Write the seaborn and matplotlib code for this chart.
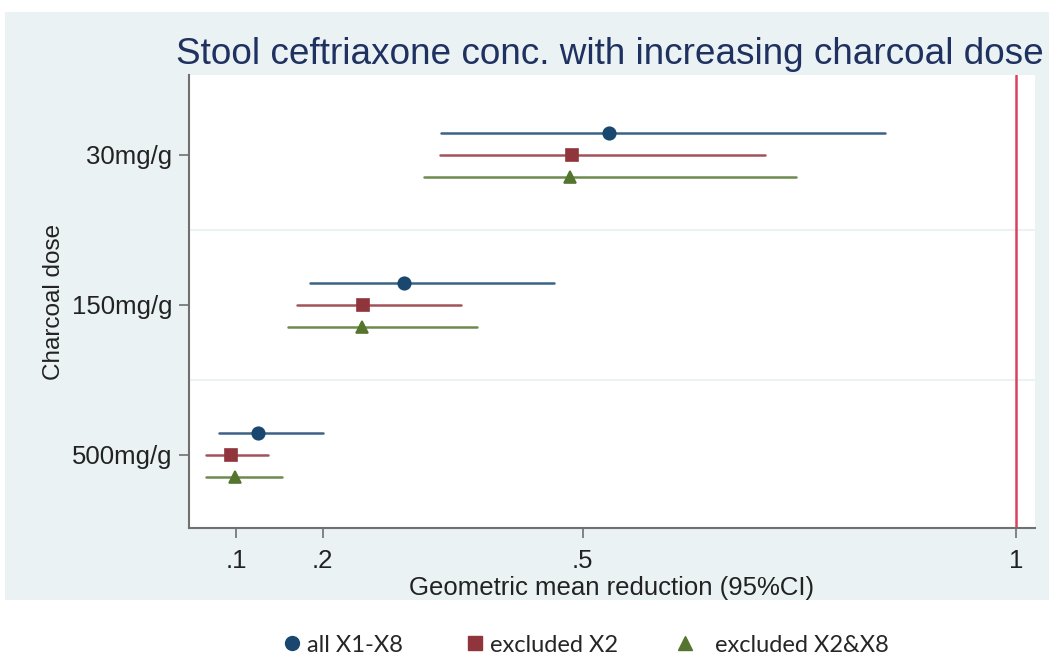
import matplotlib
matplotlib.use("Agg")
import matplotlib.pyplot as plt
from matplotlib.lines import Line2D
from matplotlib.patches import Rectangle
import seaborn as sns
import pandas as pd

# dados
doses = ["30mg/g", "150mg/g", "500mg/g"]
grupos = ["all X1-X8", "excluded X2", "excluded X2&X8"]

media_all = [0.53, 0.294, 0.125]
lo_all = [0.336, 0.185, 0.080]
hi_all = [0.849, 0.467, 0.200]

media_x2 = [0.488, 0.246, 0.094]
lo_x2 = [0.335, 0.170, 0.065]
hi_x2 = [0.710, 0.360, 0.137]

media_x2x8 = [0.485, 0.245, 0.099]
lo_x2x8 = [0.317, 0.160, 0.065]
hi_x2x8 = [0.746, 0.378, 0.153]

x_ticks = [0.1, 0.2, 0.5, 1]
x_ticklabels = [".1", ".2", ".5", "1"]

cores = {"all X1-X8": "#1a476f", "excluded X2": "#90353b", "excluded X2&X8": "#55752f"}
marcadores = ["o", "s", "^"]

# tabela longa: cada grupo tem lo, media, hi -> mediana = media, pi 100 = IC
linhas = []
for grupo, med, lo, hi in [
    (grupos[0], media_all, lo_all, hi_all),
    (grupos[1], media_x2, lo_x2, hi_x2),
    (grupos[2], media_x2x8, lo_x2x8, hi_x2x8),
]:
    for i, dose in enumerate(doses):
        for v in (lo[i], med[i], hi[i]):
            linhas.append({"dose": dose, "grupo": grupo, "valor": v})
df = pd.DataFrame(linhas)

sns.set_theme(style="white")
plt.rcParams["font.family"] = ["Liberation Sans", "DejaVu Sans"]

fig = plt.figure(figsize=(10.49, 6.59), dpi=100, facecolor="white")
W, H = 1049, 659
fig.patches.append(Rectangle((5 / W, 1 - 600 / H), 1 - 5 / W, (600 - 12) / H,
                             transform=fig.transFigure, facecolor="#eaf2f3",
                             edgecolor="none", zorder=-10))

ax = fig.add_axes([189 / W, 1 - 528 / H, (1035 - 189) / W, (528 - 75) / H])
ax.set_facecolor("white")

sns.pointplot(
    data=df, x="valor", y="dose", hue="grupo", order=doses, hue_order=grupos,
    estimator="median", errorbar=("pi", 100), dodge=0.294,
    markers=marcadores, linestyles="none", palette=cores,
    markersize=9, linewidth=1.6, err_kws={"linewidth": 1.8, "alpha": 0.85},
    orient="h", ax=ax, legend=False,
)

ax.axvline(1, color="#d9415f", linewidth=1.8, zorder=1)
for yb in (0.5, 1.5):
    ax.axhline(yb, color="#eaf2f3", linewidth=1.5, zorder=0)

ax.set_xlim(0.0458, 1.0216)
ax.set_ylim(2.487, -0.533)
ax.set_xticks(x_ticks)
ax.set_xticklabels(x_ticklabels)

for s in ("top", "right"):
    ax.spines[s].set_visible(False)
for s in ("left", "bottom"):
    ax.spines[s].set_color("#707070")
    ax.spines[s].set_linewidth(1.5)
ax.tick_params(axis="both", direction="out", length=7, width=1.2, color="#707070",
               labelsize=18.5, labelcolor="#222222", left=True, bottom=True)
ax.tick_params(axis="x", pad=8)
ax.tick_params(axis="y", pad=5)

ax.set_xlabel("Geometric mean reduction (95%CI)", fontsize=18.5, color="#222222", labelpad=2)
ax.set_ylabel("Charcoal dose", fontsize=17.5, color="#222222", labelpad=5)

fig.text(610 / W, 1 - 55 / H, "Stool ceftriaxone conc. with increasing charcoal dose",
         ha="center", va="center", fontsize=26.6, color="#1f3160")

# legenda: uma entrada por vez, como no original
for (m, g, xl, pad) in zip(marcadores, grupos, [283, 466, 676], [0.2, 0.2, 0.85]):
    h = Line2D([], [], marker=m, linestyle="none", color=cores[g], markersize=10)
    fig.legend([h], [g], loc="center left", bbox_to_anchor=(xl / W, 1 - 645 / H),
               frameon=False, borderpad=0, borderaxespad=0, handlelength=0.8,
               handletextpad=pad, prop={"family": ["Lato", "DejaVu Sans"], "size": 17})

fig.savefig("out.png", dpi=100, facecolor="white")
